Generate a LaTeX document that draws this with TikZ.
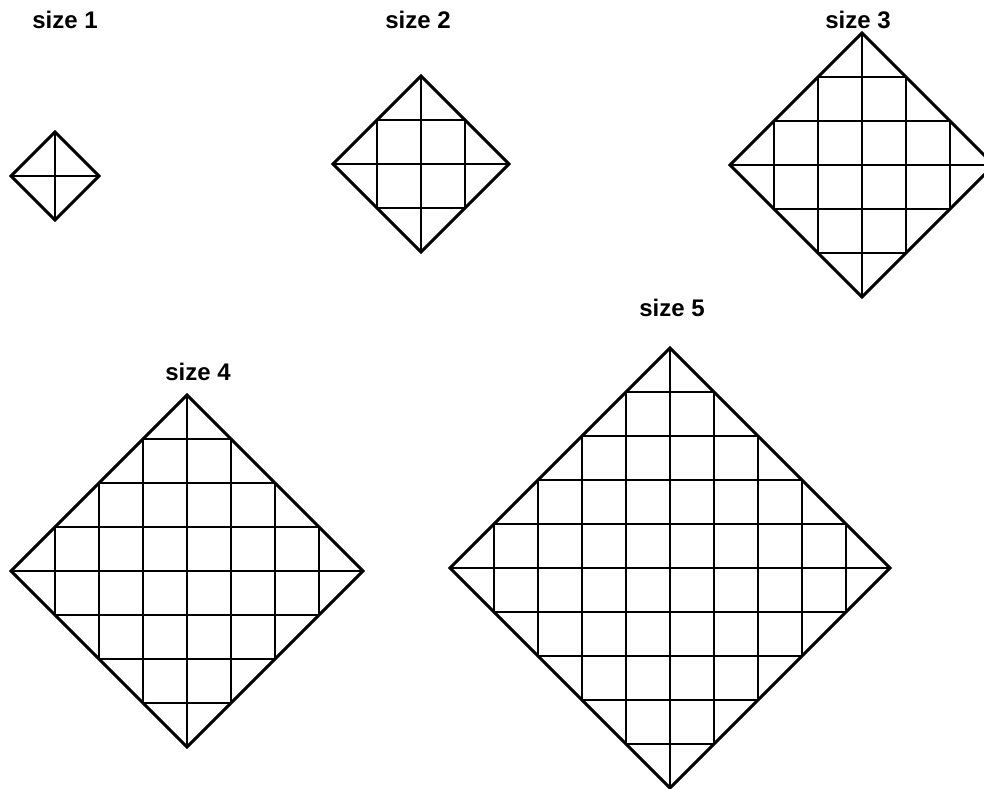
\documentclass[tikz,border=0pt]{standalone}
\usepackage{fontspec}
\setmainfont{Liberation Sans}

\tikzset{
  sizelabel/.style={anchor=base,inner sep=0pt,font=\fontsize{24}{28}\selectfont\bfseries}
}

\begin{document}
\begin{tikzpicture}[x=1pt,y=-1pt,line width=2.9pt]
\useasboundingbox (0,0) rectangle (984,788);
% diamonds: centre, size
\foreach \cx/\cy/\n in {55/176/1, 421/164/2, 862/165/3, 187/571/4, 670/568/5} {
  \pgfmathsetmacro{\r}{44*\n}
  \draw (\cx-\r,\cy) -- (\cx,\cy-\r) -- (\cx+\r,\cy) -- (\cx,\cy+\r) -- cycle;
  \pgfmathtruncatemacro{\m}{2*\n-1}
  \foreach \k in {1,...,\m} {
    \pgfmathsetmacro{\d}{44*(\k-\n)}
    \pgfmathsetmacro{\h}{\r-44*abs(\k-\n)}
    \draw (\cx+\d,\cy-\h) -- (\cx+\d,\cy+\h);
    \draw (\cx-\h,\cy+\d) -- (\cx+\h,\cy+\d);
  }
}
% labels
\node[sizelabel] (size1) at (65,28) {size 1};
\node[sizelabel] (size2) at (418,28) {size 2};
\node[sizelabel] (size3) at (858,28) {size 3};
\node[sizelabel] (size4) at (198,380) {size 4};
\node[sizelabel] (size5) at (672,316) {size 5};
\end{tikzpicture}
\end{document}
